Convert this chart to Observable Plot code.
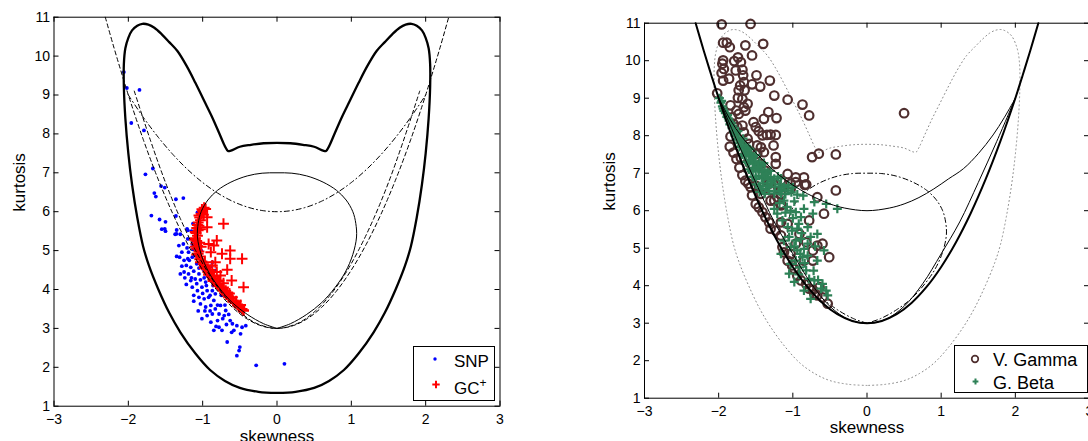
<!DOCTYPE html>
<html><head><meta charset="utf-8">
<script src="https://cdn.jsdelivr.net/npm/d3@7"></script>
<script src="https://cdn.jsdelivr.net/npm/@observablehq/plot@0.6"></script>
<style>
body{margin:0;background:#fff;}
#wrap{position:relative;width:1088px;height:441px;overflow:hidden;font-family:"Liberation Sans",Arial,Helvetica,sans-serif;background:#fff;}
.panel{position:absolute;top:0;}
.legend{position:absolute;border:1px solid #000;background:#fff;box-sizing:border-box;color:#000;}
.legend .t{position:absolute;white-space:nowrap;line-height:20px;}
</style></head><body>
<div id="wrap"></div>
<script>
// ---------- ticks & labels ----------
const xTicks = [-3, -2, -1, 0, 1, 2, 3];
const yTicks = [1, 2, 3, 4, 5, 6, 7, 8, 9, 10, 11];
const xLabel = "skewness";
const yLabel = "kurtosis";
const legendLeft = ["SNP", "GC"];
const legendRight = ["V. Gamma", "G. Beta"];

// ---------- curves (skewness, kurtosis) ----------
const batLeftHalf = [[0,1.34],[-0.25,1.37],[-0.5,1.47],[-0.7,1.65],[-0.9,1.93],[-1.1,2.36],[-1.3,2.9],[-1.45,3.4],[-1.6,4.02],[-1.72,4.6],[-1.8,5.1],[-1.88,5.85],[-1.95,6.7],[-2.0,7.5],[-2.04,8.4],[-2.06,9.2],[-2.06,9.8],[-2.04,10.2],[-2.0,10.47],[-1.95,10.66],[-1.88,10.78],[-1.81,10.83],[-1.73,10.81],[-1.65,10.73],[-1.55,10.56],[-1.45,10.36],[-1.34,10.13],[-1.22,9.76],[-1.1,9.32],[-0.98,8.85],[-0.88,8.46],[-0.78,8.03],[-0.7,7.68],[-0.66,7.56],[-0.62,7.57],[-0.5,7.67],[-0.35,7.72],[-0.18,7.76],[0,7.77]];
const batRightHalf = [[0.18,7.76],[0.35,7.72],[0.5,7.67],[0.62,7.57],[0.66,7.56],[0.7,7.68],[0.78,8.03],[0.88,8.46],[0.98,8.85],[1.1,9.32],[1.22,9.76],[1.34,10.13],[1.45,10.36],[1.55,10.56],[1.65,10.73],[1.73,10.81],[1.81,10.83],[1.88,10.78],[1.95,10.66],[2.0,10.47],[2.04,10.2],[2.06,9.8],[2.06,9.2],[2.04,8.4],[2.0,7.5],[1.95,6.7],[1.88,5.85],[1.8,5.1],[1.72,4.6],[1.6,4.02],[1.45,3.4],[1.3,2.9],[1.1,2.36],[0.9,1.93],[0.7,1.65],[0.5,1.47],[0.25,1.37],[0,1.34]];
const heartCurve = [[0,3.0],[-0.18,3.12],[-0.4,3.36],[-0.6,3.66],[-0.78,4.05],[-0.92,4.45],[-1.02,4.9],[-1.07,5.35],[-1.06,5.7],[-1.02,6.0],[-0.93,6.3],[-0.8,6.55],[-0.62,6.76],[-0.4,6.92],[-0.2,6.99],[0,7.0],[0.2,6.99],[0.4,6.92],[0.62,6.76],[0.8,6.55],[0.93,6.3],[1.02,6.0],[1.06,5.7],[1.07,5.35],[1.02,4.9],[0.92,4.45],[0.78,4.05],[0.6,3.66],[0.4,3.36],[0.18,3.12],[0,3.0]];
const gammaLine = [[-2.31,11.0],[-2.2,10.26],[-2.1,9.62],[-2.0,9.0],[-1.8,7.86],[-1.6,6.84],[-1.4,5.94],[-1.2,5.16],[-1.0,4.5],[-0.8,3.96],[-0.6,3.54],[-0.4,3.24],[-0.2,3.06],[0,3.0],[0.2,3.06],[0.4,3.24],[0.6,3.54],[0.8,3.96],[1.0,4.5],[1.2,5.16],[1.4,5.94],[1.6,6.84],[1.8,7.86],[2.0,9.0],[2.1,9.62],[2.2,10.26],[2.31,11.0]];
const innerDashLine = [[-1.92,9.1],[-1.7,7.82],[-1.5,6.75],[-1.3,5.82],[-1.1,5.02],[-0.9,4.35],[-0.7,3.82],[-0.5,3.42],[-0.3,3.15],[-0.1,3.02],[0,3.0],[0.1,3.02],[0.3,3.15],[0.5,3.42],[0.7,3.82],[0.9,4.35],[1.1,5.02],[1.3,5.82],[1.5,6.75],[1.7,7.82],[1.92,9.1]];
const dashDotLine = [[-2.0,9.0],[-1.8,8.43],[-1.6,7.92],[-1.4,7.47],[-1.2,7.08],[-1.0,6.75],[-0.8,6.48],[-0.6,6.27],[-0.4,6.12],[-0.2,6.03],[0,6.0],[0.2,6.03],[0.4,6.12],[0.6,6.27],[0.8,6.48],[1.0,6.75],[1.2,7.08],[1.4,7.47],[1.6,7.92],[1.8,8.43],[2.0,9.0]];
const upperLine = [[-2.0,9.0],[-1.85,8.45],[-1.7,8.0],[-1.5,7.55],[-1.3,7.15],[-1.1,6.82],[-0.9,6.56],[-0.7,6.35],[-0.5,6.18],[-0.3,6.07],[0,6.0],[0.3,6.07],[0.5,6.18],[0.7,6.35],[0.9,6.58],[1.1,6.85],[1.3,7.12],[1.5,7.52],[1.7,8.02],[1.85,8.48],[2.0,9.0]];
const lowerLine = [[-2.0,9.0],[-1.75,7.85],[-1.5,6.75],[-1.25,5.7],[-1.0,4.85],[-0.75,4.05],[-0.5,3.45],[-0.25,3.1],[0,3.0],[0.25,3.1],[0.5,3.45],[0.75,4.05],[1.0,4.85],[1.25,5.7],[1.5,6.75],[1.75,7.85],[2.0,9.0]];

// ---------- left panel data ----------
const snpPoints = [[-2.06,9.59],[-2.02,9.18],[-1.85,9.13],[-1.96,8.28],[-1.79,8.09],[-1.67,7.11],[-1.77,6.96],[-1.56,6.66],[-1.51,6.62],[-1.65,6.48],[-1.63,6.39],[-1.36,6.32],[-1.26,6.35],[-1.69,5.90],[-1.58,5.80],[-1.50,5.74],[-1.36,5.89],[-1.51,5.56],[-1.35,5.53],[-1.21,5.56],[-1.06,5.96],[-1.13,5.69],[-1.50,5.50],[-1.35,5.43],[-1.55,5.55],[-1.37,5.42],[-1.30,5.42],[-1.20,5.52],[-1.15,5.50],[-1.13,5.03],[-1.07,5.98],
[-1.32,5.13],[-1.26,5.17],[-1.21,5.07],[-1.14,5.17],[-1.19,4.96],[-1.28,4.96],[-1.31,4.83],[-1.25,4.75],[-1.20,4.79],[-1.14,4.83],[-1.10,4.87],[-1.22,4.62],[-1.16,4.57],[-1.08,4.66],[-1.02,4.72],[-0.98,4.62],[-1.25,4.45],[-1.19,4.40],[-1.12,4.47],[-1.05,4.40],[-0.98,4.49],[-0.94,4.36],[-0.87,4.70],[-0.83,4.49],[-0.89,4.23],[-0.96,4.19],[-1.03,4.25],[-1.10,4.27],[-1.16,4.23],[-1.22,4.13],[-1.14,4.06],[-1.07,3.97],[-1.01,4.06],[-0.94,3.97],[-0.87,3.97],[-0.83,3.89],[-0.78,4.06],[-1.12,3.85],[-1.05,3.80],[-0.98,3.76],[-0.92,3.80],[-0.85,3.72],[-1.03,3.63],[-0.96,3.55],[-0.89,3.59],[-0.83,3.50],[-0.76,3.59],[-0.69,3.46],[-0.65,3.36],[-0.71,3.33],[-0.78,3.37],[-0.87,3.37],[-0.94,3.33],[-1.01,3.25],[-0.89,3.16],[-0.80,3.20],[-0.78,3.03],[-0.74,2.95],[-0.85,2.95],[-0.60,3.12],[-0.54,3.07],[-0.47,3.03],[-0.42,3.07],[-0.49,2.86],[-0.61,2.90],[-0.67,2.65],[-0.50,2.52],[-0.51,2.43],[-0.54,2.30],[-0.28,2.05],[0.10,2.09],
[-1.15,4.30],[-1.05,4.55],[-0.95,4.10],[-0.90,3.85],[-1.00,3.90],[-1.08,4.15],[-0.98,4.30],[-0.86,4.10],[-0.92,4.45],[-1.18,4.75],[-1.24,4.30],[-1.28,4.60],[-1.12,3.70],[-0.97,3.45],[-0.80,3.60],[-0.73,3.25],[-0.82,3.05],[-0.90,3.45],[-1.06,3.45],[-0.68,3.10],[-0.58,2.95],[-0.63,3.20],[-0.88,4.60],[-1.20,5.30],[-1.30,4.40],[-1.02,5.00],[-1.35,4.85],[-1.10,5.05],[-0.75,3.85],[-0.70,3.60]];
const gcArcPoints = [[-0.98,6.10],[-1.00,6.02],[-1.02,5.95],[-0.99,5.92],[-1.04,5.85],[-1.03,5.78],[-1.06,5.72],[-1.05,5.64],[-1.08,5.58],[-1.06,5.52],[-1.09,5.45],[-1.07,5.38],[-1.10,5.32],[-1.08,5.25],[-1.09,5.18],[-1.07,5.12],[-1.08,5.05],[-1.05,4.98],[-1.06,4.92],[-1.03,4.85],[-1.04,4.78],[-1.01,4.72],[-0.99,4.65],[-0.97,4.58],[-0.95,4.52],[-0.93,4.45],[-0.91,4.40],[-0.88,4.33],[-0.86,4.27],[-0.83,4.20],[-0.81,4.15],[-0.78,4.09],[-0.76,4.04],[-0.73,3.98],[-0.70,3.92],[-0.68,3.87],[-0.65,3.82],[-0.62,3.76],[-0.59,3.70],[-0.56,3.65],[-0.53,3.60],[-0.50,3.55],[-0.47,3.50],[-0.45,3.46],[-1.03,5.55],[-1.04,5.20],[-1.02,5.10],[-0.97,4.70],[-0.90,4.50],[-0.85,4.35],[-0.80,4.22],[-0.72,4.05],[-0.64,3.90],[-1.01,6.06],[-1.05,5.90],[-1.07,5.66],[-1.10,5.48],[-1.11,5.28],[-1.10,5.10],[-1.08,4.90],[-1.03,4.70],[-0.98,4.55],[-0.92,4.38],[-0.86,4.22],[-0.79,4.12],[-0.74,4.02],[-0.67,3.92],[-0.60,3.80],[-0.55,3.70],[-0.49,3.60]];
const gcScatter = [[-0.96,6.07],[-0.94,5.86],[-0.72,5.69],[-0.94,5.60],[-0.92,5.17],[-0.81,5.26],[-0.85,5.13],[-0.89,4.96],[-0.74,4.92],[-0.63,5.00],[-0.63,4.79],[-0.47,4.79],[-0.83,4.70],[-0.87,4.62],[-0.67,4.51],[-0.81,4.45],[-0.76,4.36],[-0.78,4.23],[-0.72,4.16],[-0.61,4.23],[-0.45,4.06],[-0.69,3.97],[-0.65,3.80],[-0.51,3.55],[-0.45,3.46]];

// ---------- right panel data ----------
const vgPoints = [[-1.96,10.97],[-1.57,10.98],[-1.94,10.48],[-1.89,10.48],[-1.85,10.36],[-1.64,10.41],[-1.40,10.45],[-1.94,10.01],[-1.95,9.92],[-1.79,9.99],[-1.74,10.09],[-1.70,9.96],[-1.55,10.14],[-1.93,9.78],[-1.96,9.67],[-1.77,9.74],[-1.68,9.76],[-1.67,9.61],[-1.94,9.47],[-1.86,9.52],[-1.49,9.61],[-1.66,9.43],[-1.71,9.34],[-1.55,9.37],[-1.44,9.31],[-1.31,9.47],[-1.73,9.21],[-1.65,9.21],[-1.74,9.01],[-1.68,8.98],[-1.61,8.85],[-1.25,9.07],[-1.66,8.76],[-1.84,8.81],[-1.76,8.67],[-1.64,8.67],[-1.07,8.96],[-0.87,8.83],[-1.82,8.49],[-1.73,8.58],[-1.53,8.36],[-1.33,8.63],[-1.39,8.45],[-1.22,8.47],[-0.78,8.54],[-1.80,8.32],[-1.75,8.23],[-1.68,8.27],[-1.66,8.09],[-1.50,8.23],[-1.46,8.12],[-1.41,8.01],[-1.35,8.02],[-1.30,8.03],[-1.23,8.02],[-1.84,7.98],[-1.61,7.92],[-1.59,7.78],[-1.48,7.74],[-1.43,7.69],[-1.26,7.74],[-1.70,7.41],[-1.48,7.52],[-1.39,7.56],[-1.23,7.43],[-1.23,7.25],[-1.43,7.25],[-1.57,7.25],[-1.37,7.07],[-0.74,7.43],[-0.65,7.52],[-0.42,7.50],[-1.07,6.98],[-0.96,6.89],[-0.85,6.89],[-1.16,6.81],[-1.23,6.72],[-1.32,6.72],[-1.03,6.72],[-0.84,6.69],[-0.67,6.36],[-0.42,6.54],[-1.50,6.67],[-1.16,6.54],[-1.21,6.36],[-1.16,6.18],[-1.30,6.27],
[0.50,8.60],[-2.02,9.13],[-1.85,7.71],[-1.80,7.55],[-1.76,7.38],[-1.72,7.15],[-1.68,6.95],[-1.64,6.80],[-1.60,6.72],
[-1.57,6.63],[-1.55,6.41],[-1.50,6.18],[-1.46,6.09],[-1.41,5.96],[-1.37,5.83],[-1.32,5.69],[-1.30,5.52],[-1.23,5.47],[-1.16,5.69],[-1.16,5.34],[-1.14,5.03],[-1.12,4.89],[-1.07,4.67],[-1.01,4.54],[-0.98,4.45],[-0.94,4.27],[-0.89,4.14],[-0.82,4.05],[-0.78,3.92],[-0.71,3.78],[-0.67,3.74],[-0.60,3.69],[-0.53,3.52],[-1.30,6.54],[-1.16,6.45],[-0.96,6.76],[-0.82,6.70],[-0.58,5.92],[-0.78,5.74],[-0.82,5.16],[-0.73,4.94],[-0.67,5.07],[-0.60,5.12],[-0.51,4.76],[-0.73,4.67],[-0.85,4.67],[-1.03,4.85],[-0.96,5.12],[-0.91,5.38],[-1.07,5.65],[-1.16,6.14],[-1.25,6.27],[-1.03,6.58],[-0.73,3.89],[-0.64,3.96],[-1.34,6.76],[-1.43,6.45]];
const gbPoints = [[-1.99,9.00],[-1.97,8.88],[-1.96,8.93],[-1.94,8.72],[-1.93,8.66],[-1.89,8.50],[-1.87,8.46],[-1.88,8.55],[-1.85,8.30],[-1.83,8.34],[-1.81,8.27],[-1.80,8.10],[-1.78,8.14],[-1.76,8.06],[-1.74,8.12],[-1.76,7.90],[-1.73,7.94],[-1.70,7.87],[-1.67,7.92],[-1.72,7.70],[-1.69,7.74],[-1.66,7.66],[-1.63,7.72],[-1.60,7.68],[-1.58,7.64],[-1.68,7.50],[-1.65,7.46],[-1.62,7.53],[-1.59,7.47],[-1.56,7.52],[-1.53,7.44],[-1.50,7.48],[-1.63,7.30],[-1.60,7.26],[-1.57,7.33],[-1.54,7.27],[-1.51,7.31],[-1.48,7.24],[-1.45,7.29],[-1.42,7.22],[-1.39,7.27],[-1.59,7.10],[-1.56,7.05],[-1.53,7.13],[-1.50,7.07],[-1.46,7.11],[-1.42,7.03],[-1.38,7.09],[-1.34,7.02],[-1.30,7.06],[-1.54,6.90],[-1.50,6.85],[-1.46,6.93],[-1.42,6.87],[-1.38,6.92],[-1.34,6.84],[-1.30,6.90],[-1.25,6.85],[-1.20,6.91],[-1.16,6.86],[-1.50,6.70],[-1.45,6.65],[-1.40,6.73],[-1.35,6.67],[-1.30,6.72],[-1.24,6.64],[-1.18,6.70],[-1.12,6.63],[-1.06,6.68],[-1.00,6.62],[-1.45,6.50],[-1.38,6.45],[-1.32,6.53],[-1.25,6.46],[-1.18,6.52],[-1.10,6.44],[-1.02,6.49],[-0.94,6.43],[-0.86,6.40],
[-1.95,8.78],[-1.91,8.60],[-1.86,8.40],[-1.82,8.20],[-1.78,8.00],[-1.71,7.80],[-1.64,7.60],[-1.55,7.38],[-1.47,7.17],[-1.36,6.98],[-1.28,6.78],[-1.42,6.58],[-1.15,6.57],
[-1.32,6.63],[-1.16,6.45],[-1.07,6.54],[-1.12,6.27],[-1.03,6.00],[-0.96,5.96],[-1.21,5.92],[-1.14,5.74],[-1.07,5.56],[-1.01,5.47],[-0.94,5.52],[-0.89,5.25],[-0.96,5.20],[-1.03,5.03],[-0.94,4.94],[-0.85,4.98],[-0.80,5.12],[-0.87,4.76],[-0.96,4.67],[-1.03,4.58],[-0.91,4.49],[-0.82,4.41],[-0.78,4.18],[-0.71,4.14],[-0.62,3.92],[-0.55,3.87],[-0.53,3.74],[-1.12,5.20],[-1.16,4.85],[-0.71,6.23],[-0.55,6.18],[-0.40,6.05],[-0.73,5.92],[-0.67,5.38],[-0.58,4.94],[-0.80,5.56],[-0.89,5.83],[-1.05,4.32],[-0.98,4.10],[-0.85,3.87],[-0.76,3.65],[-0.67,4.67],
[-1.10,5.95],[-1.00,5.80],[-0.92,5.65],[-1.05,5.30],[-0.98,5.05],[-0.90,4.85],[-0.84,4.60],[-0.92,4.30],[-0.88,5.40],[-1.08,6.10],[-0.98,6.25],[-0.85,6.05],[-1.18,6.20],[-1.25,6.05],[-0.76,5.30],[-0.70,5.05],[-0.80,4.80],[-0.72,4.40],[-0.66,4.15],[-0.60,4.05]];

// ---------- colours ----------
const cSNP = "#0000ff", cGC = "#ff0000", cVG = "#4f2f2f", cGB = "#2e8157";

const X = d => d[0], Y = d => d[1];
const FONT = "Liberation Sans, Arial, Helvetica, sans-serif";
const fmt = d3.format("d");

function panel({width, height, ml, mr, mt, mb, marks, xlDy, ylDx}) {
  const pw = width - ml - mr, ph = height - mt - mb;
  return Plot.plot({
    width, height, marginLeft: ml, marginRight: mr, marginTop: mt, marginBottom: mb,
    x: {domain: [-3, 3]}, y: {domain: [1, 11]},
    style: {fontFamily: FONT, fontSize: "14px", color: "#000", background: "transparent"},
    marks: [
      ...marks,
      Plot.frame({stroke: "#000", strokeWidth: 1}),
      Plot.axisX({ticks: xTicks, tickFormat: fmt, anchor: "bottom", tickSize: 0, tickPadding: 8, label: null, fontSize: 14}),
      Plot.axisY({ticks: yTicks, tickFormat: fmt, anchor: "left", tickSize: 0, tickPadding: 4, label: null, fontSize: 14}),
      Plot.tickX(xTicks, {x: d => d, insetTop: ph - 5, stroke: "#000"}),
      Plot.tickX(xTicks, {x: d => d, insetBottom: ph - 5, stroke: "#000"}),
      Plot.tickY(yTicks, {y: d => d, insetRight: pw - 5, stroke: "#000"}),
      Plot.tickY(yTicks, {y: d => d, insetLeft: pw - 5, stroke: "#000"}),
      Plot.text([xLabel], {text: d => d, frameAnchor: "bottom", dy: xlDy, lineAnchor: "top", fontSize: 17, fill: "#000"}),
      Plot.text([yLabel], {text: d => d, frameAnchor: "left", dx: ylDx, rotate: -90, lineAnchor: "middle", fontSize: 17, fill: "#000"})
    ]
  });
}

const leftPlot = panel({
  width: 544, height: 441, ml: 53.5, mr: 44.5, mt: 16.7, mb: 35.3, xlDy: 24, ylDx: -34.5,
  marks: [
    Plot.dot(snpPoints, {x: X, y: Y, r: 1.9, fill: cSNP, stroke: null}),
    Plot.dot(gcArcPoints, {x: X, y: Y, symbol: "plus", r: 3.6, stroke: cGC, strokeWidth: 2}),
    Plot.dot(gcScatter, {x: X, y: Y, symbol: "plus", r: 3.6, stroke: cGC, strokeWidth: 2}),
    Plot.line(batLeftHalf.concat(batRightHalf), {x: X, y: Y, stroke: "#000", strokeWidth: 2.3, curve: "catmull-rom"}),
    Plot.line(gammaLine, {x: X, y: Y, stroke: "#000", strokeWidth: 1, strokeDasharray: "4,3", curve: "catmull-rom"}),
    Plot.line(innerDashLine, {x: X, y: Y, stroke: "#000", strokeWidth: 1, strokeDasharray: "4,3", curve: "catmull-rom"}),
    Plot.line(dashDotLine, {x: X, y: Y, stroke: "#000", strokeWidth: 1, strokeDasharray: "5,3,1,3", curve: "catmull-rom"}),
    Plot.line(heartCurve, {x: X, y: Y, stroke: "#000", strokeWidth: 1, curve: "catmull-rom"})
  ]
});

const rightPlot = panel({
  width: 544, height: 441, ml: 100, mr: -1, mt: 22.7, mb: 43.3, xlDy: 23, ylDx: -35,
  marks: [
    Plot.line(batLeftHalf.concat(batRightHalf), {x: X, y: Y, stroke: "#8a8a8a", strokeWidth: 1, strokeDasharray: "1,3", curve: "catmull-rom"}),
    Plot.line(heartCurve, {x: X, y: Y, stroke: "#000", strokeWidth: 1, strokeDasharray: "5,3,1,3", curve: "catmull-rom"}),
    Plot.dot(vgPoints, {x: X, y: Y, r: 4.3, stroke: cVG, strokeWidth: 2.2, fill: "none"}),
    Plot.dot(gbPoints, {x: X, y: Y, symbol: "plus", r: 3, stroke: cGB, strokeWidth: 2.2}),
    Plot.line(gammaLine, {x: X, y: Y, stroke: "#000", strokeWidth: 2, curve: "catmull-rom"}),
    Plot.line(lowerLine, {x: X, y: Y, stroke: "#000", strokeWidth: 1, curve: "catmull-rom"}),
    Plot.line(upperLine, {x: X, y: Y, stroke: "#000", strokeWidth: 1, curve: "catmull-rom"})
  ]
});

const wrap = document.getElementById("wrap");
leftPlot.classList.add("panel"); leftPlot.style.left = "0px";
rightPlot.classList.add("panel"); rightPlot.style.left = "544px";
wrap.append(leftPlot, rightPlot);

// ---------- legends ----------
function legend(left, top, w, h, fontSize, rows) {
  const box = document.createElement("div");
  box.className = "legend";
  Object.assign(box.style, {left: left + "px", top: top + "px", width: w + "px", height: h + "px", fontSize: fontSize + "px"});
  const svg = d3.create("svg").attr("width", w).attr("height", h).style("position", "absolute").style("left", "-1px").style("top", "-1px");
  rows.forEach(r => {
    r.draw(svg);
    const t = document.createElement("div");
    t.className = "t";
    t.style.left = r.tx + "px"; t.style.top = r.ty + "px";
    t.innerHTML = r.html;
    box.appendChild(t);
  });
  box.appendChild(svg.node());
  wrap.appendChild(box);
}
legend(413, 346, 82, 55, 17, [
  {tx: 40, ty: 5, html: legendLeft[0], draw: s => s.append("circle").attr("cx", 22).attr("cy", 13).attr("r", 1.7).attr("fill", cSNP)},
  {tx: 40, ty: 32, html: legendLeft[1] + '<span style="font-size:12px;position:relative;top:-7px">+</span>',
   draw: s => s.append("path").attr("d", "M19.3,38.5H26.7M23,34.8V42.2").attr("stroke", cGC).attr("stroke-width", 2)}
]);
legend(954, 345, 134, 48, 18, [
  {tx: 38, ty: 4, html: legendRight[0], draw: s => s.append("circle").attr("cx", 21).attr("cy", 14).attr("r", 3.3).attr("fill", "none").attr("stroke", cVG).attr("stroke-width", 1.7)},
  {tx: 38, ty: 27, html: legendRight[1], draw: s => s.append("path").attr("d", "M18.6,36.5H24.4M21.5,33.6V39.4").attr("stroke", cGB).attr("stroke-width", 2)}
]);
</script>
</body></html>
